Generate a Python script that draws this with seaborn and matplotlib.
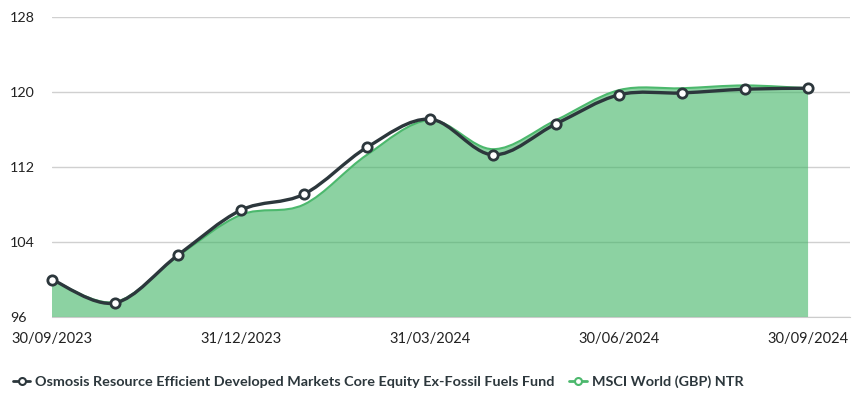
import numpy as np
import matplotlib
matplotlib.use('Agg')
import matplotlib.pyplot as plt
import seaborn as sns
from matplotlib.path import Path
from matplotlib.patches import PathPatch
from matplotlib.lines import Line2D

# monthly values, 30/09/2023 .. 30/09/2024
months = list(range(13))
fund = [100.0, 97.5, 102.6, 107.4, 109.1, 114.1, 117.1, 113.3, 116.6, 119.7, 119.9, 120.3, 120.4]
msci = [100.0, 97.6, 102.5, 106.9, 108.0, 113.3, 117.0, 113.9, 117.0, 120.2, 120.4, 120.7, 120.4]
tick_pos = [0, 3, 6, 9, 12]
tick_labels = ['30/09/2023', '31/12/2023', '31/03/2024', '30/06/2024', '30/09/2024']
y_ticks = [96, 104, 112, 120, 128]
fund_name = 'Osmosis Resource Efficient Developed Markets Core Equity Ex-Fossil Fuels Fund'
msci_name = 'MSCI World (GBP) NTR'

dark = '#2c373c'
green_line = '#4cb86d'
green_fill = '#3fb464'

sns.set_style('white')
plt.rcParams['font.family'] = ['Lato', 'DejaVu Sans']


def spline_path(xs, ys, base=None):
    # catmull-rom curve turned into cubic bezier segments
    pts = np.column_stack([xs, ys]).astype(float)
    n = len(pts)
    verts, codes = [], []
    if base is not None:
        verts.append((pts[0, 0], base)); codes.append(Path.MOVETO)
        verts.append(tuple(pts[0])); codes.append(Path.LINETO)
    else:
        verts.append(tuple(pts[0])); codes.append(Path.MOVETO)
    for i in range(n - 1):
        p0 = pts[max(i - 1, 0)]
        p1 = pts[i]
        p2 = pts[i + 1]
        p3 = pts[min(i + 2, n - 1)]
        c1 = p1 + (p2 - p0) / 6
        c2 = p2 - (p3 - p1) / 6
        verts += [tuple(c1), tuple(c2), tuple(p2)]
        codes += [Path.CURVE4] * 3
    if base is not None:
        verts.append((pts[-1, 0], base)); codes.append(Path.LINETO)
        verts.append((pts[0, 0], base)); codes.append(Path.CLOSEPOLY)
    return Path(verts, codes)


fig = plt.figure(figsize=(8.65, 4), dpi=100)
ax = fig.add_axes([0.060, 0.2075, 0.923, 0.75])

# msci area + outline
ax.add_patch(PathPatch(spline_path(months, msci, base=96), facecolor=green_fill, alpha=0.6,
                       edgecolor='none', zorder=2))
ax.add_patch(PathPatch(spline_path(months, msci), facecolor='none', edgecolor=green_line,
                       lw=1.5, zorder=3))
# fund line
ax.add_patch(PathPatch(spline_path(months, fund), facecolor='none', edgecolor=dark,
                       lw=2.4, zorder=4, capstyle='round', clip_on=False))
sns.scatterplot(x=months, y=fund, ax=ax, color='white', edgecolor=dark, linewidth=2,
                s=45, zorder=5, legend=False, clip_on=False)

ax.set_xlim(0, 12.67)
ax.set_ylim(96, 128)
ax.set_yticks(y_ticks)
ax.set_xticks(tick_pos)
ax.set_xticklabels(tick_labels)
ax.grid(axis='y', color='#d0d0d0', lw=1, zorder=0)
ax.set_axisbelow(True)
for s in ['top', 'right', 'left']:
    ax.spines[s].set_visible(False)
ax.spines['bottom'].set_color('#cccccc')
ax.tick_params(axis='y', length=0, pad=30, labelsize=10.3, labelcolor='#222222')
for lab in ax.get_yticklabels():
    lab.set_horizontalalignment('left')
ax.tick_params(axis='x', length=5, width=1, color='#999999', pad=6, labelsize=10.5,
               labelcolor='#222222', direction='out')

handles = [
    Line2D([], [], color=dark, lw=2, marker='o', markersize=5, markerfacecolor='white',
           markeredgecolor=dark, markeredgewidth=1.5),
    Line2D([], [], color=green_line, lw=2, marker='o', markersize=5, markerfacecolor='white',
           markeredgecolor=green_line, markeredgewidth=1.5),
]
leg = fig.legend(handles, [fund_name, msci_name], loc='center left', bbox_to_anchor=(0.0, 0.045),
                 ncol=2, frameon=False, handlelength=1.2, handletextpad=0.35, columnspacing=1.0,
                 prop={'size': 10.4, 'weight': 'bold'})
for t in leg.get_texts():
    t.set_color('#2c373c')

fig.savefig('out.png', dpi=100)
